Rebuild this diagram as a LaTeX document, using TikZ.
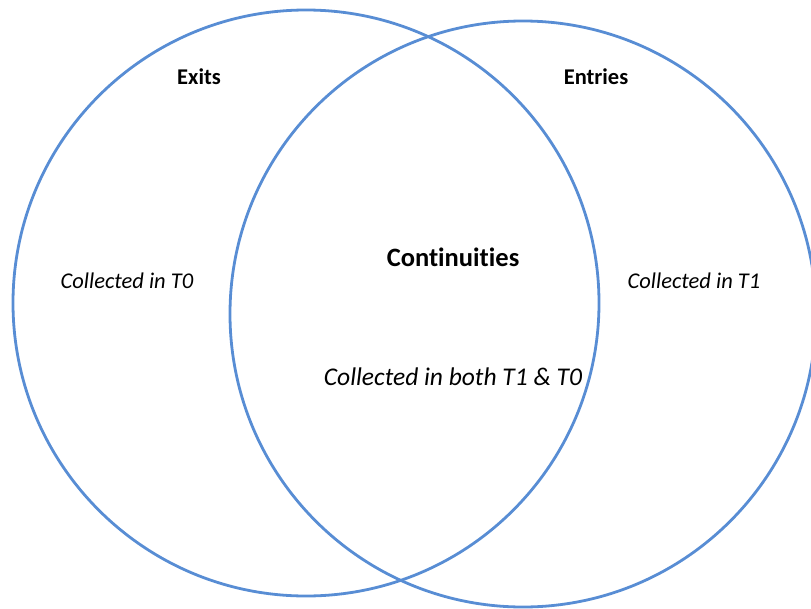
\documentclass[tikz,border=0pt]{standalone}
\usepackage{fontspec}
\setmainfont[Ligatures=CommonOff]{Carlito}
\definecolor{vennblue}{RGB}{88,141,212}
\begin{document}
\begin{tikzpicture}[x=1pt,y=-1pt,
  ring/.style={draw=vennblue,line width=2.8pt},
  title/.style={font=\bfseries\fontsize{22.5}{26}\selectfont},
  note/.style={font=\itshape\fontsize{22.5}{26}\selectfont}]
\pgfmathsetmacro{\rad}{293}
\useasboundingbox (0,0) rectangle (811,608);
\clip (0,0) rectangle (811,608);
\draw[ring] (306,303) circle[radius=\rad];
\draw[ring] (523,314) circle[radius=\rad];
\node[title] (exits) at (199,77) {Exits};
\node[title] (entries) at (596,77) {Entries};
\node[title,font=\bfseries\fontsize{26.5}{30}\selectfont] (cont) at (453,257) {Continuities};
\node[note] (t0) at (127,281) {Collected in T0};
\node[note] (t1) at (694,281) {Collected in T1};
\node[note,font=\itshape\fontsize{25.5}{30}\selectfont] (both) at (453,377) {Collected in both T1 \& T0};
\end{tikzpicture}
\end{document}
